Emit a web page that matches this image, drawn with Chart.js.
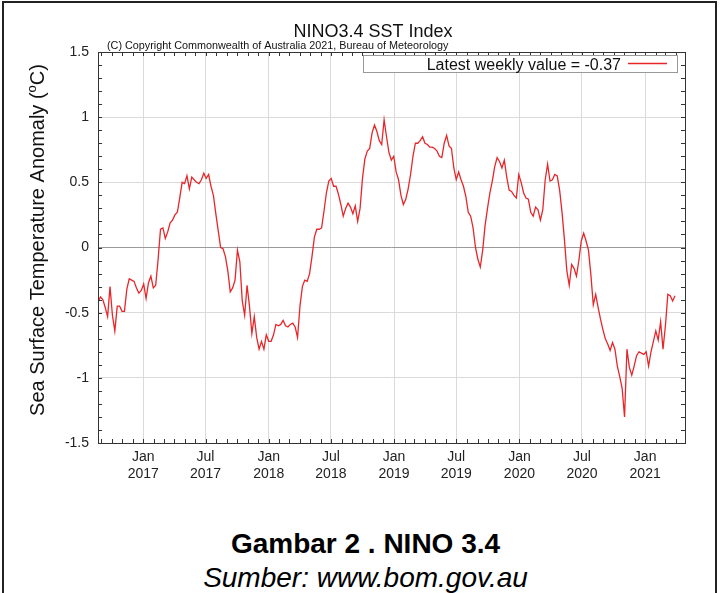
<!DOCTYPE html>
<html>
<head>
<meta charset="utf-8">
<script src="https://cdn.jsdelivr.net/npm/chart.js@4/dist/chart.umd.min.js"></script>
<style>
  body { margin: 0; background: #fff; width: 721px; height: 593px; overflow: hidden; position: relative;
         font-family: 'Liberation Sans', Arial, sans-serif; }
  #frame { position: absolute; left: 2px; top: 1px; width: 715px; height: 700px; border: 2px solid #222; box-sizing: border-box; }
  #wrap { position: absolute; left: 0; top: 0; width: 721px; height: 500px; }
  .caption { position: absolute; left: 5px; width: 721px; text-align: center; color: #000; }
  #cap1 { top: 528px; font-weight: bold; font-size: 28px; }
  #cap2 { top: 562px; font-style: italic; font-size: 28px; }
</style>
</head>
<body>
<div id="frame"></div>
<div id="wrap"><canvas id="ninoChart"></canvas></div>
<div class="caption" id="cap1">Gambar 2 . NINO 3.4</div>
<div class="caption" id="cap2">Sumber: www.bom.gov.au</div>
<script>
// weekly NINO3.4 anomaly, one value per week starting at firstWeek
const axisStart = '2016-08-22';
const axisEnd = '2021-04-27';
const firstWeek = '2016-08-22';
const weeklyAnomaly = [
  -0.42, -0.38, -0.40, -0.46, -0.53, -0.30, -0.52, -0.64, -0.45, -0.45,
  -0.49, -0.49, -0.32, -0.24, -0.25, -0.26, -0.31, -0.35, -0.33, -0.28,
  -0.39, -0.27, -0.22, -0.31, -0.29, -0.09, 0.14, 0.15, 0.07, 0.12,
  0.19, 0.21, 0.25, 0.27, 0.38, 0.50, 0.49, 0.55, 0.45, 0.54,
  0.52, 0.50, 0.49, 0.52, 0.57, 0.53, 0.56, 0.47, 0.40, 0.26,
  0.13, 0.00, -0.01, -0.07, -0.18, -0.34, -0.31, -0.25, -0.02, -0.11,
  -0.41, -0.52, -0.29, -0.45, -0.66, -0.53, -0.69, -0.78, -0.72, -0.78,
  -0.67, -0.72, -0.72, -0.67, -0.59, -0.60, -0.59, -0.56, -0.60, -0.61,
  -0.59, -0.58, -0.61, -0.69, -0.45, -0.30, -0.25, -0.26, -0.20, -0.07,
  0.08, 0.14, 0.14, 0.15, 0.28, 0.42, 0.51, 0.53, 0.47, 0.47,
  0.41, 0.33, 0.24, 0.30, 0.34, 0.31, 0.26, 0.32, 0.20, 0.30,
  0.53, 0.68, 0.74, 0.76, 0.88, 0.94, 0.89, 0.82, 0.79, 0.98,
  0.85, 0.73, 0.67, 0.70, 0.58, 0.52, 0.40, 0.33, 0.37, 0.45,
  0.56, 0.70, 0.80, 0.80, 0.82, 0.85, 0.80, 0.79, 0.77, 0.77,
  0.76, 0.74, 0.70, 0.69, 0.80, 0.86, 0.78, 0.76, 0.61, 0.52,
  0.58, 0.52, 0.47, 0.39, 0.27, 0.24, 0.15, 0.00, -0.09, -0.15,
  -0.02, 0.17, 0.30, 0.42, 0.51, 0.62, 0.69, 0.66, 0.61, 0.67,
  0.54, 0.44, 0.43, 0.40, 0.38, 0.56, 0.50, 0.42, 0.38, 0.37,
  0.27, 0.24, 0.31, 0.29, 0.21, 0.29, 0.52, 0.64, 0.51, 0.52,
  0.56, 0.55, 0.44, 0.27, 0.06, -0.18, -0.29, -0.13, -0.16, -0.22,
  -0.10, 0.05, 0.11, 0.05, -0.02, -0.21, -0.44, -0.36, -0.46, -0.55,
  -0.63, -0.70, -0.74, -0.79, -0.73, -0.78, -0.91, -0.99, -1.08, -1.30,
  -0.78, -0.92, -0.98, -0.91, -0.83, -0.80, -0.81, -0.82, -0.80, -0.91,
  -0.80, -0.72, -0.64, -0.71, -0.57, -0.78, -0.60, -0.36, -0.37, -0.41,
  -0.37
];
const tickDates = ['2017-01-01', '2017-07-01', '2018-01-01', '2018-07-01', '2019-01-01',
                   '2019-07-01', '2020-01-01', '2020-07-01', '2021-01-01'];
const tickLabels = [['Jan', '2017'], ['Jul', '2017'], ['Jan', '2018'], ['Jul', '2018'], ['Jan', '2019'],
                    ['Jul', '2019'], ['Jan', '2020'], ['Jul', '2020'], ['Jan', '2021']];
const yTicks = [-1.5, -1, -0.5, 0, 0.5, 1, 1.5];
const latestLabel = 'Latest weekly value = -0.37';

const FONT = "'Liberation Sans', Arial, sans-serif";
const DAY = 86400000;
const RED = '#e8262a';
function dayOf(s) {
    return (Date.parse(s) - Date.parse(axisStart)) / DAY;
}

const points = weeklyAnomaly.map(function (v, i) {
    return { x: dayOf(firstWeek) + 7 * i, y: v };
});

// frame, minor ticks, title, legend box, rotated axis title
const decorations = {
    id: 'decorations',
    afterDraw: function (chart) {
        const ctx = chart.ctx;
        const a = chart.chartArea;
        const xs = chart.scales.x;
        const ys = chart.scales.y;
        ctx.save();
        ctx.strokeStyle = '#333';
        ctx.lineWidth = 1;
        ctx.beginPath();
        // monthly ticks top and bottom
        const start = Date.parse(axisStart);
        for (let yr = 2016; yr <= 2021; yr++) {
            for (let m = 0; m < 12; m++) {
                const d = (Date.UTC(yr, m, 1) - start) / DAY;
                if (d < xs.min || d > xs.max) continue;
                const px = Math.round(xs.getPixelForValue(d)) + 0.5;
                ctx.moveTo(px, a.bottom); ctx.lineTo(px, a.bottom - 4);
                ctx.moveTo(px, a.top); ctx.lineTo(px, a.top + 4);
            }
        }
        // 0.1 ticks left and right
        for (let k = -15; k <= 15; k++) {
            const py = Math.round(ys.getPixelForValue(k / 10)) + 0.5;
            ctx.moveTo(a.left, py); ctx.lineTo(a.left + 4, py);
            ctx.moveTo(a.right, py); ctx.lineTo(a.right - 4, py);
        }
        ctx.stroke();
        ctx.strokeRect(Math.round(a.left) + 0.5, Math.round(a.top) + 0.5,
                       Math.round(a.right - a.left), Math.round(a.bottom - a.top));

        // title + copyright
        ctx.fillStyle = '#111';
        ctx.textAlign = 'center';
        ctx.textBaseline = 'alphabetic';
        ctx.font = '18px ' + FONT;
        ctx.fillText('NINO3.4 SST Index', 373, 37);
        ctx.textAlign = 'left';
        ctx.font = '10.8px ' + FONT;
        ctx.fillText('(C) Copyright Commonwealth of Australia 2021, Bureau of Meteorology', 107, 49);

        // legend box
        ctx.fillStyle = '#fff';
        ctx.fillRect(363, 55, 314, 17);
        ctx.strokeStyle = '#999';
        ctx.strokeRect(363.5, 55.5, 314, 17);
        ctx.fillStyle = '#111';
        ctx.textAlign = 'right';
        ctx.font = '16px ' + FONT;
        ctx.fillText(latestLabel, 621, 69.5);
        ctx.strokeStyle = RED;
        ctx.lineWidth = 1.5;
        ctx.beginPath();
        ctx.moveTo(628, 63.5); ctx.lineTo(667, 63.5);
        ctx.stroke();

        // y axis title with superscript o
        ctx.translate(44, 240);
        ctx.rotate(-Math.PI / 2);
        ctx.fillStyle = '#111';
        ctx.textAlign = 'left';
        const big = '20px ' + FONT;
        const small = '13px ' + FONT;
        const p1 = 'Sea Surface Temperature Anomaly (';
        ctx.font = big;
        const w1 = ctx.measureText(p1).width;
        const wC = ctx.measureText('C)').width;
        ctx.font = small;
        const wo = ctx.measureText('o').width;
        let x0 = -(w1 + wo + wC) / 2;
        ctx.font = big;
        ctx.fillText(p1, x0, 0);
        ctx.font = small;
        ctx.fillText('o', x0 + w1, -8);
        ctx.font = big;
        ctx.fillText('C)', x0 + w1 + wo, 0);
        ctx.restore();
    }
};

const ninoChart = new Chart(document.getElementById('ninoChart').getContext('2d'), {
    type: 'line',
    data: {
        datasets: [{
            data: points,
            borderColor: RED,
            borderWidth: 1.3,
            pointRadius: 0,
            tension: 0,
            fill: false
        }]
    },
    options: {
        responsive: true,
        maintainAspectRatio: false,
        animation: false,
        layout: { padding: { top: 52, right: 36, left: 0, bottom: 0 } },
        plugins: {
            legend: { display: false },
            tooltip: { enabled: false },
            title: { display: false }
        },
        scales: {
            x: {
                type: 'linear',
                min: 0,
                max: dayOf(axisEnd),
                afterBuildTicks: function (scale) {
                    scale.ticks = tickDates.map(function (d) { return { value: dayOf(d) }; });
                },
                afterFit: function (scale) { scale.height = 57; },
                grid: { color: '#dadada', drawTicks: false },
                border: { display: false },
                ticks: {
                    autoSkip: false,
                    maxRotation: 0,
                    padding: 6,
                    color: '#222',
                    font: { family: FONT, size: 14, lineHeight: 1.2 },
                    callback: function (value, index) { return tickLabels[index]; }
                }
            },
            y: {
                min: -1.5,
                max: 1.5,
                afterBuildTicks: function (scale) {
                    scale.ticks = yTicks.map(function (v) { return { value: v }; });
                },
                afterFit: function (scale) { scale.width = 98; },
                grid: {
                    color: function (c) { return c.tick && c.tick.value === 0 ? '#9a9a9a' : '#dadada'; },
                    drawTicks: false
                },
                border: { display: false },
                ticks: {
                    padding: 9,
                    color: '#222',
                    font: { family: FONT, size: 14 },
                    callback: function (value) { return String(value); }
                }
            }
        }
    },
    plugins: [decorations]
});
</script>
</body>
</html>
